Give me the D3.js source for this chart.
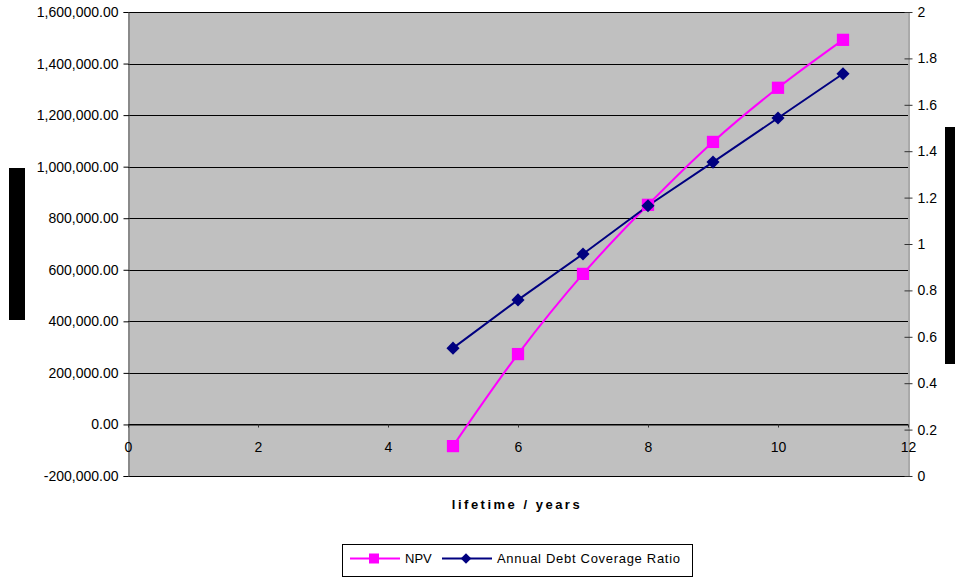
<!DOCTYPE html>
<html>
<head>
<meta charset="utf-8">
<script src="https://cdn.jsdelivr.net/npm/d3@7"></script>
<style>
  html, body { margin: 0; padding: 0; background: #ffffff; }
  svg text { font-family: "Liberation Sans", Arial, sans-serif; fill: #000; }
</style>
</head>
<body>
<svg id="chart" width="955" height="577"></svg>
<script>
// Project lifetime (years)
const years = [5, 6, 7, 8, 9, 10, 11];
// Net present value for each lifetime
const npv = [-84000, 273000, 584000, 852000, 1096000, 1306000, 1492000];
// Annual debt coverage ratio for each lifetime
const adcr = [0.551, 0.759, 0.957, 1.165, 1.353, 1.543, 1.734];

const xTicks = [0, 2, 4, 6, 8, 10, 12];
const yLeftTicks = [-200000, 0, 200000, 400000, 600000, 800000, 1000000, 1200000, 1400000, 1600000];
const yRightTicks = [0, 0.2, 0.4, 0.6, 0.8, 1, 1.2, 1.4, 1.6, 1.8, 2];

const seriesNames = ["NPV", "Annual Debt Coverage Ratio"];
const xTitle = "lifetime / years";

const svg = d3.select("#chart");
const plot = { left: 128, right: 908, top: 12, bottom: 476 };

const x = d3.scaleLinear().domain([0, 12]).range([plot.left, plot.right]);
const yL = d3.scaleLinear().domain([-200000, 1600000]).range([plot.bottom, plot.top]);
const yR = d3.scaleLinear().domain([0, 2]).range([plot.bottom, plot.top]);

// Plain hyphen for negative numbers
const locale = d3.formatLocale({ decimal: ".", thousands: ",", grouping: [3], currency: ["", ""], minus: "-" });
const fmt = locale.format(",.2f");

// Plot background
svg.append("rect")
  .attr("x", plot.left).attr("y", plot.top)
  .attr("width", plot.right - plot.left).attr("height", plot.bottom - plot.top)
  .attr("fill", "#c0c0c0");

// Horizontal gridlines at left-axis ticks
svg.append("g")
  .selectAll("line")
  .data(yLeftTicks)
  .join("line")
  .attr("x1", plot.left).attr("x2", plot.right)
  .attr("y1", d => Math.round(yL(d)) + 0.5).attr("y2", d => Math.round(yL(d)) + 0.5)
  .attr("stroke", "#000").attr("stroke-width", 1);

// Left axis
const leftAxis = svg.append("g")
  .attr("transform", `translate(${plot.left + 0.5},0)`)
  .call(d3.axisLeft(yL).tickValues(yLeftTicks).tickFormat(fmt).tickSize(5).tickPadding(5));
leftAxis.select(".domain").attr("stroke", "#555");
leftAxis.selectAll(".tick line").attr("stroke", "#000");
leftAxis.selectAll("text").style("font-size", "14px").attr("fill", "#111");

// Right axis (ticks cross the axis line)
const rightAxis = svg.append("g")
  .attr("transform", `translate(${plot.right + 0.5},0)`)
  .call(d3.axisRight(yR).tickValues(yRightTicks).tickFormat(d3.format("")).tickSizeInner(4).tickSizeOuter(0).tickPadding(5));
rightAxis.select(".domain").attr("stroke", "#555");
rightAxis.selectAll(".tick line").attr("x1", -4).attr("stroke", "#333");
rightAxis.selectAll("text").style("font-size", "14px").attr("fill", "#111");

// X axis sits on the zero line of the left axis
const xAxis = svg.append("g")
  .attr("transform", `translate(0,${Math.round(yL(0)) + 0.5})`)
  .call(d3.axisBottom(x).tickValues(xTicks).tickSizeInner(3).tickSizeOuter(0).tickPadding(15));
xAxis.select(".domain").attr("stroke", "#000");
xAxis.selectAll(".tick line").attr("stroke", "#333");
xAxis.selectAll("text").style("font-size", "14px").attr("fill", "#111");

// Axis title boxes
svg.append("rect").attr("x", 9).attr("y", 168).attr("width", 16).attr("height", 152).attr("fill", "#000");
svg.append("rect").attr("x", 945).attr("y", 127).attr("width", 10).attr("height", 237).attr("fill", "#000");

// X axis title
svg.append("text")
  .attr("x", 517).attr("y", 509)
  .attr("text-anchor", "middle")
  .style("font-size", "13px").style("font-weight", "bold").style("letter-spacing", "2.5px")
  .text(xTitle);

const npvColor = "#ff00ff";
const adcrColor = "#000080";

// NPV series (smoothed)
const npvLine = d3.line().x((d, i) => x(years[i])).y(d => yL(d)).curve(d3.curveCatmullRom);
svg.append("path").datum(npv)
  .attr("d", npvLine).attr("fill", "none")
  .attr("stroke", npvColor).attr("stroke-width", 2);

// Debt coverage series
const adcrLine = d3.line().x((d, i) => x(years[i])).y(d => yR(d));
svg.append("path").datum(adcr)
  .attr("d", adcrLine).attr("fill", "none")
  .attr("stroke", adcrColor).attr("stroke-width", 2);

const sq = d3.symbol().type(d3.symbolSquare).size(150);
const dia = d3.symbol().type(d3.symbolDiamond2).size(110);

svg.append("g").selectAll("path")
  .data(npv).join("path")
  .attr("d", sq)
  .attr("transform", (d, i) => `translate(${x(years[i])},${yL(d)})`)
  .attr("fill", npvColor);

svg.append("g").selectAll("path")
  .data(adcr).join("path")
  .attr("d", dia)
  .attr("transform", (d, i) => `translate(${x(years[i])},${yR(d)})`)
  .attr("fill", adcrColor);

// Legend
const lg = svg.append("g");
lg.append("rect")
  .attr("x", 342.5).attr("y", 544.5).attr("width", 350).attr("height", 32)
  .attr("fill", "#fff").attr("stroke", "#000").attr("stroke-width", 1);
const ly = 558.5;
lg.append("line").attr("x1", 350).attr("x2", 400).attr("y1", ly).attr("y2", ly)
  .attr("stroke", npvColor).attr("stroke-width", 2);
lg.append("path").attr("d", d3.symbol().type(d3.symbolSquare).size(100))
  .attr("transform", `translate(374,${ly})`).attr("fill", npvColor);
lg.append("text").attr("x", 405).attr("y", ly).attr("dy", "0.35em")
  .style("font-size", "13px").text(seriesNames[0]);
lg.append("line").attr("x1", 442).attr("x2", 492).attr("y1", ly).attr("y2", ly)
  .attr("stroke", adcrColor).attr("stroke-width", 2);
lg.append("path").attr("d", d3.symbol().type(d3.symbolDiamond2).size(70))
  .attr("transform", `translate(466,${ly})`).attr("fill", adcrColor);
lg.append("text").attr("x", 497).attr("y", ly).attr("dy", "0.35em")
  .style("font-size", "13px").attr("textLength", 183).attr("lengthAdjust", "spacing")
  .text(seriesNames[1]);
</script>
</body>
</html>
